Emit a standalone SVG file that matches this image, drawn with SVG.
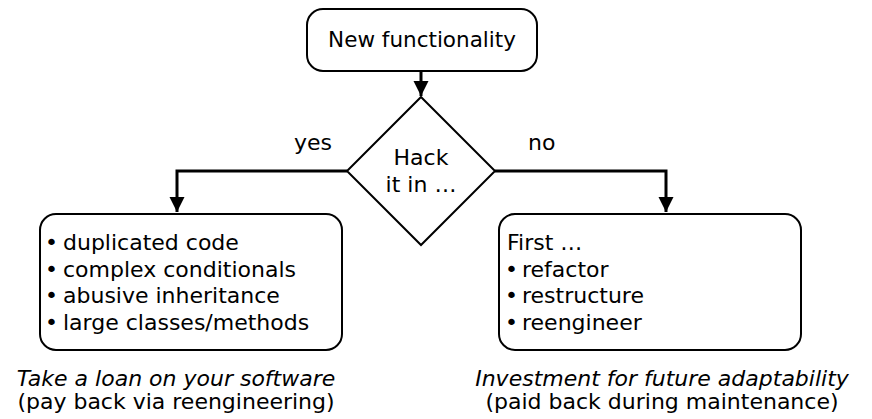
<svg xmlns="http://www.w3.org/2000/svg" width="872" height="419" viewBox="0 0 872 419">
<style>
.box{fill:#fff;stroke:#000;stroke-width:2}
.edge{fill:none;stroke:#000;stroke-width:3}
text{font-family:"DejaVu Sans",Verdana,sans-serif;fill:#000;font-size:22px}
.t{font-size:21.5px}
.c{text-anchor:middle}
.i{font-style:italic}
</style>
<defs>
<marker id="ah" viewBox="0 0 10 10" refX="10" refY="5" markerWidth="5" markerHeight="5.3" markerUnits="strokeWidth" orient="auto">
<path d="M0,0 L10,5 L0,10 z" fill="#000"/>
</marker>
</defs>
<g id="connectors">
<path class="edge" d="M421,71 V96" marker-end="url(#ah)"/>
<path class="edge" d="M347,171 H177 V212" marker-end="url(#ah)"/>
<path class="edge" d="M495,171 H666 V212" marker-end="url(#ah)"/>
<text x="294" y="150">yes</text>
<text x="528" y="150">no</text>
</g>
<g id="start">
<rect class="box" x="307" y="9" width="230" height="62" rx="16"/>
<text class="t c" x="422" y="47">New functionality</text>
</g>
<g id="decision">
<polygon class="box" points="421,97 495,171 421,245 347,171"/>
<text class="c" x="421" y="165">Hack</text>
<text class="c" x="421" y="192">it in …</text>
</g>
<g id="hack">
<rect class="box" x="40" y="214" width="302" height="136" rx="16"/>
<text x="45" y="250">•</text><text x="63" y="250">duplicated code</text>
<text x="45" y="277">•</text><text x="63" y="277">complex conditionals</text>
<text x="45" y="303">•</text><text x="63" y="303">abusive inheritance</text>
<text x="45" y="330">•</text><text x="63" y="330">large classes/methods</text>
<text class="c i" x="176" y="386">Take a loan on your software</text>
<text class="c" x="176" y="409">(pay back via reengineering)</text>
</g>
<g id="invest">
<rect class="box" x="499" y="214" width="302" height="136" rx="16"/>
<text x="507" y="250">First …</text>
<text x="505" y="277">•</text><text x="522" y="277">refactor</text>
<text x="505" y="303">•</text><text x="522" y="303">restructure</text>
<text x="505" y="330">•</text><text x="522" y="330">reengineer</text>
<text class="c i" x="662" y="386">Investment for future adaptability</text>
<text class="c" x="662" y="409">(paid back during maintenance)</text>
</g>
</svg>
